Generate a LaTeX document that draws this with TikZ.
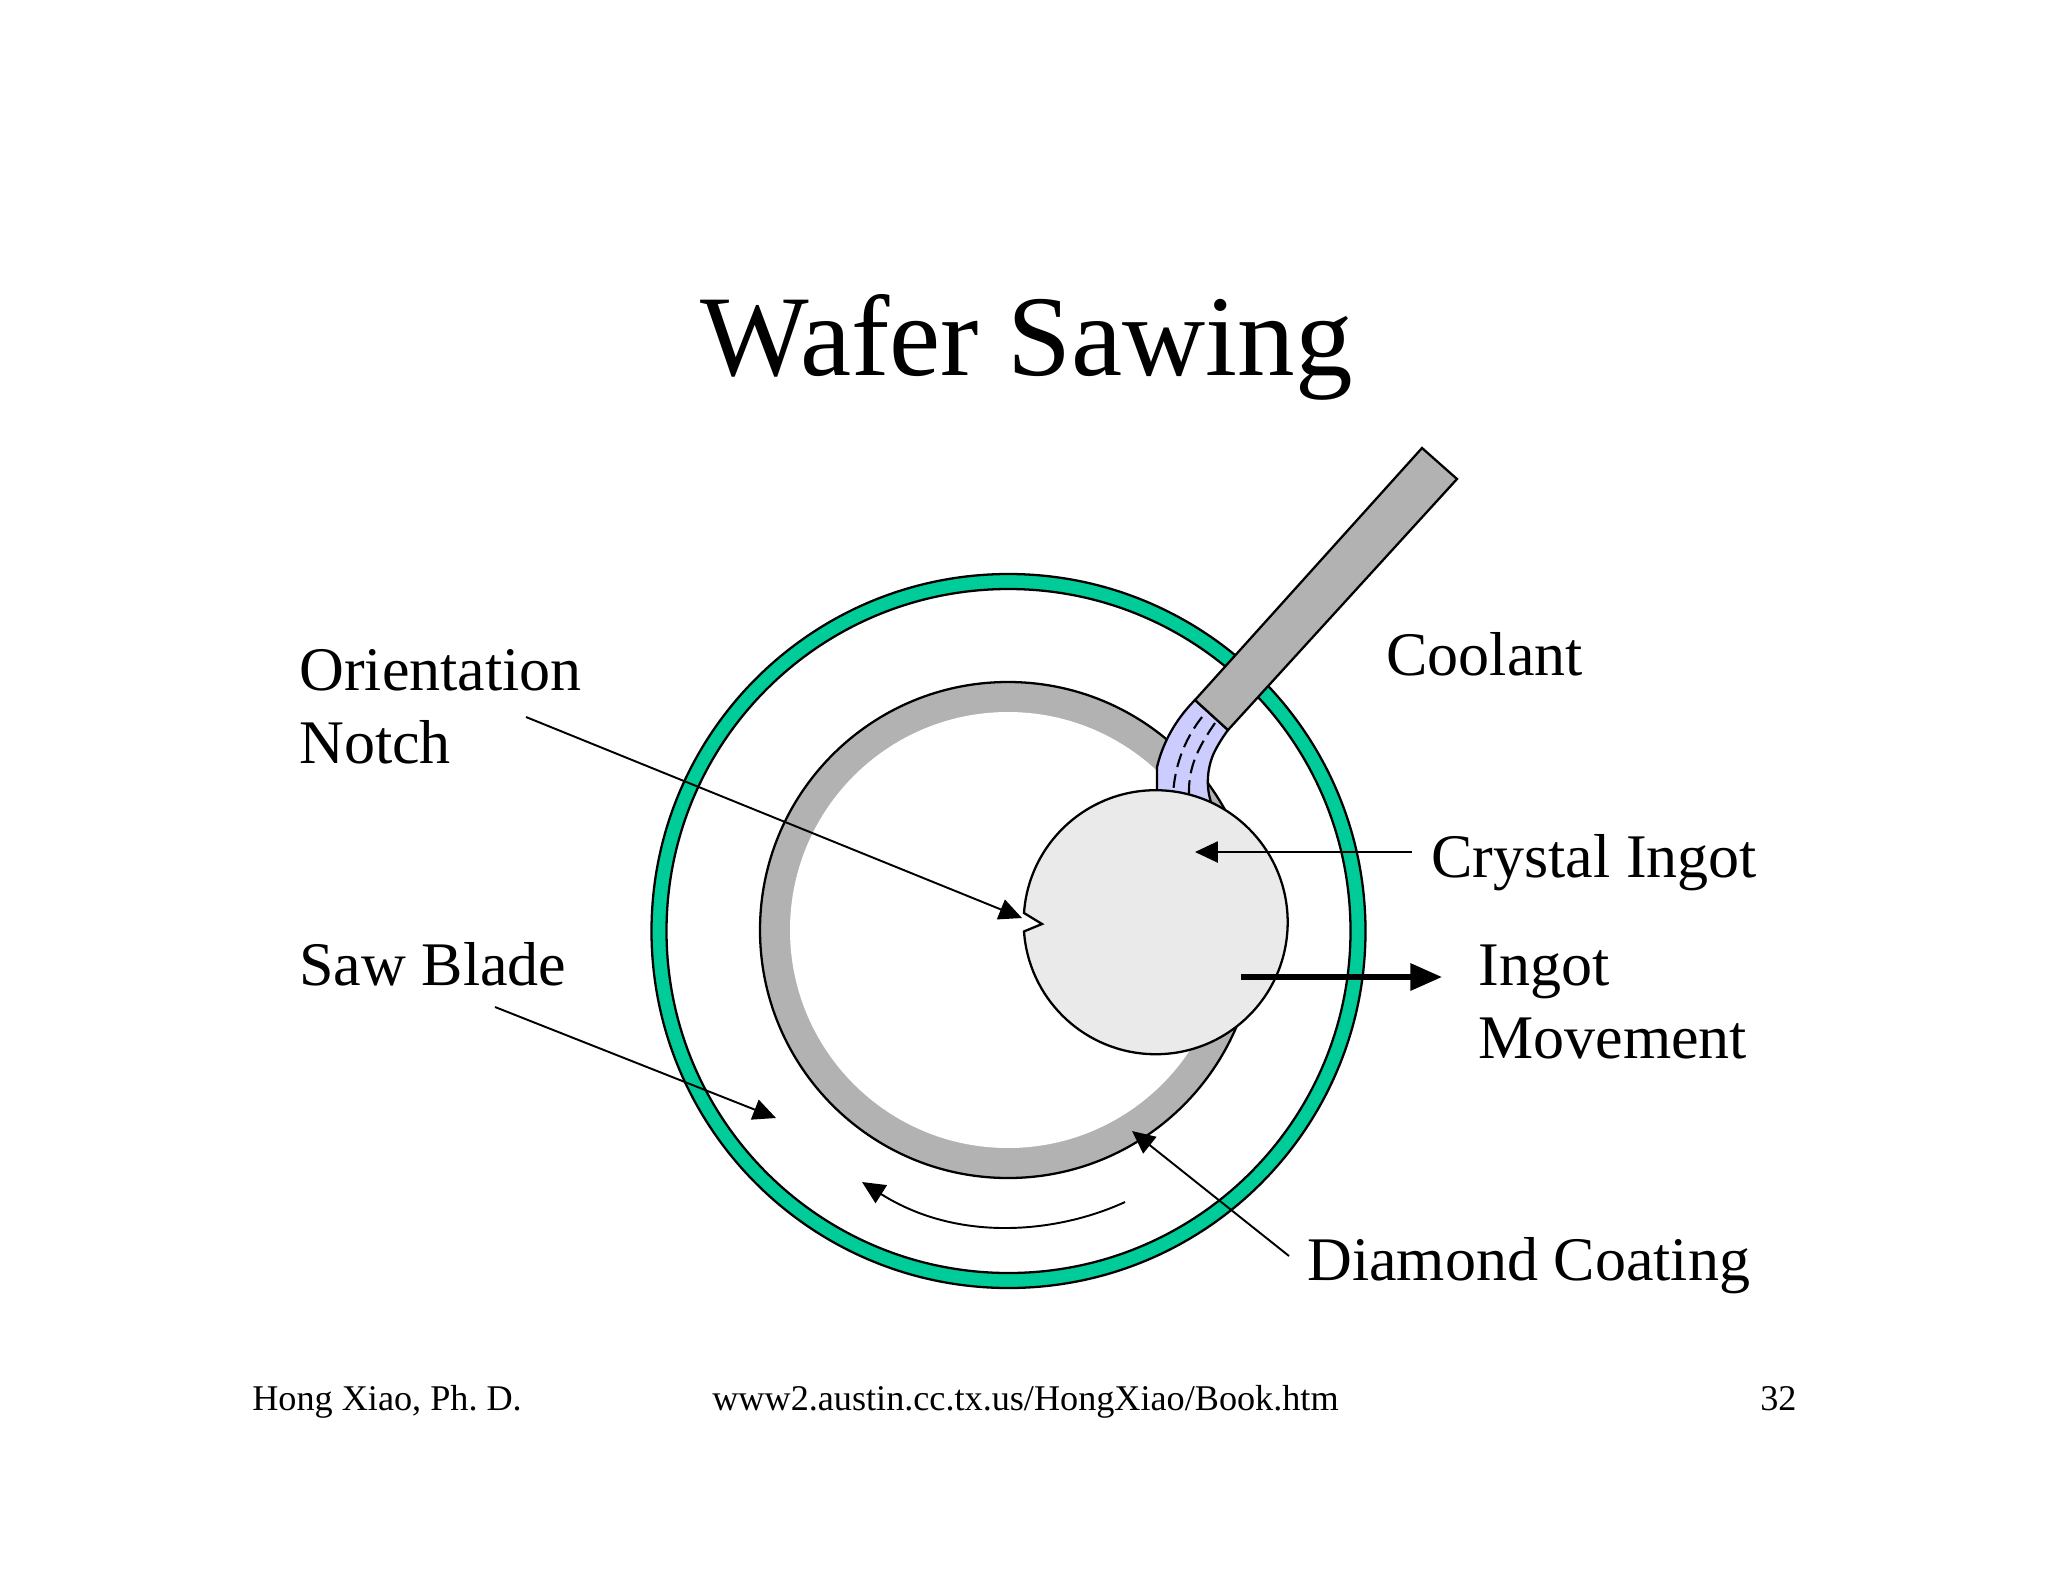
\documentclass[tikz,border=0pt]{standalone}
\usepackage{fontspec}
\setmainfont{Liberation Serif}
\usetikzlibrary{arrows.meta}
\definecolor{wheelgreen}{RGB}{0,204,153}
\definecolor{bladegray}{RGB}{178,178,178}
\definecolor{coolantblue}{RGB}{204,204,255}
\definecolor{ingotgray}{RGB}{234,234,234}
\tikzset{
  label/.style={anchor=base west,inner sep=0pt,font=\fontsize{35.3}{40}\selectfont},
  foot/.style={anchor=base west,inner sep=0pt,font=\frenchspacing\fontsize{20.6}{24}\selectfont},
  pointer/.style={-{Triangle[length=13pt,width=12pt]},line width=1.1pt},
  outline/.style={draw=black,line width=1.3pt},
  coolantflow/.style={line width=1.2pt,dash pattern=on 8pt off 4pt}
}
\begin{document}
\begin{tikzpicture}[x=0.02cm,y=-0.02cm]
      \useasboundingbox (0,0) rectangle (2048,1582);

      \node[anchor=base,inner sep=0pt,font=\fontsize{65.5}{70}\selectfont] (title) at (1027,375) {Wafer Sawing};

      % wheel
      \filldraw[wheelgreen,even odd rule] (1008.5,931) circle (357) (1008.5,931) circle (342);
      \draw[outline] (1008.5,931) circle (357);
      \draw[outline] (1008.5,931) circle (342);

      % blade with coating
      \filldraw[fill=bladegray,outline] (1008,930) circle (248);
      \fill[white] (1008,930) circle (218);

      % coolant
      \filldraw[fill=coolantblue,outline] (1195,700)
        .. controls (1176,719) and (1163,742) .. (1157,767)
        -- (1157,795) -- (1214,810)
        .. controls (1207,795) and (1205,775) .. (1213,755)
        .. controls (1216,748) and (1222,738) .. (1228,730) -- cycle;
      \draw[coolantflow] (1202,717)
        .. controls (1188,735) and (1175,760) .. (1173,795);
      \draw[coolantflow] (1215,723)
        .. controls (1200,745) and (1188,765) .. (1189,795);
      \filldraw[fill=bladegray,outline] (1422,448) -- (1457,479) -- (1228,730) -- (1195,700) -- cycle;

      % ingot
      \filldraw[fill=ingotgray,outline] (1024,913)
        arc (184:536:132) -- (1042,924) -- cycle;

      \node[label] (orient) at (299,690) {Orientation};
      \node[label] (notch) at (299,763) {Notch};
      \node[label] (saw) at (299,985) {Saw Blade};
      \node[label] (coolant) at (1386,675) {Coolant};
      \node[label] (crystal) at (1431,877) {Crystal Ingot};
      \node[label] (ingot) at (1478,985) {Ingot};
      \node[label] (move) at (1478,1058) {Movement};
      \node[label] (diamond) at (1307,1280) {Diamond Coating};

      \node[foot] (author) at (252,1410) {Hong Xiao, Ph. D.};
      \node[foot] (url) at (712,1410) {www2.austin.cc.tx.us/HongXiao/Book.htm};
      \node[foot] (page) at (1760,1410) {32};

      \coordinate (a1) at (526,717);
      \coordinate (a2) at (1022,918);
      \coordinate (b1) at (495,1007);
      \coordinate (b2) at (776,1118);
      \coordinate (c1) at (1412,852);
      \coordinate (c2) at (1195,852);
      \coordinate (d1) at (1289,1256);
      \coordinate (d2) at (1132,1131);
      \coordinate (e1) at (1241,977);
      \coordinate (e2) at (1442,977);
      \coordinate (f1) at (1125,1202);
      \coordinate (f2) at (862,1182);

      \draw[pointer] (a1) -- (a2);
      \draw[pointer] (b1) -- (b2);
      \draw[pointer] (c1) -- (c2);
      \draw[pointer] (d1) -- (d2);
      \draw[-{Triangle[length=18pt,width=15pt]},line width=3pt] (e1) -- (e2);
      \draw[pointer] (f1) .. controls (1060,1232) and (960,1244) .. (f2);
    \end{tikzpicture}
\end{document}
